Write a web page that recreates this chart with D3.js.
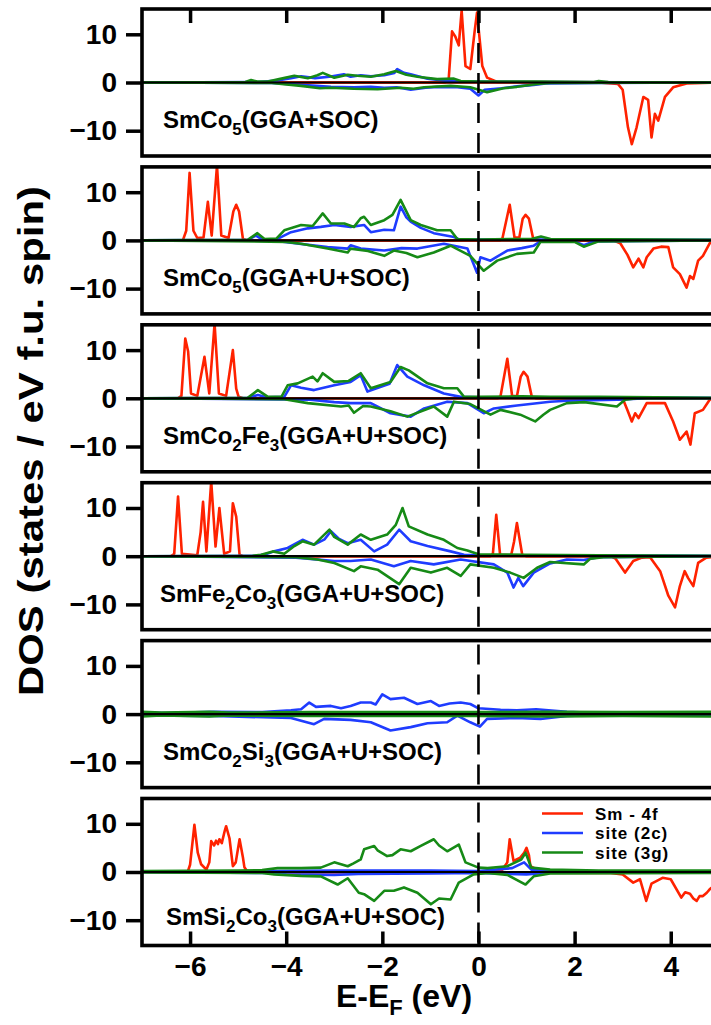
<!DOCTYPE html>
<html>
<head>
<meta charset="utf-8">
<script src="https://cdn.jsdelivr.net/npm/d3@7"></script>
<style>
  body { margin: 0; background: #fff; }
  text { font-family: "Liberation Sans", Arial, Helvetica, sans-serif; }
</style>
</head>
<body>
<div id="chart"></div>
<script>
// ---- data: [E - EF (eV), DOS] ----
// panel 1: SmCo5 (GGA+SOC)
var p1_sm_up = [[-7,0],[-0.7,0],[-0.62,0.6],[-0.55,10.6],[-0.48,9.5],[-0.41,7.7],[-0.35,14.9],[-0.27,3.4],[-0.17,2.8],[-0.08,10.6],[-0.03,14.5],[0.08,3.4],[0.18,1],[0.39,0.1],[5,0]];
var p1_sm_dn = [[-7,0],[2.5,0],[2.9,-0.3],[3.0,-1.5],[3.11,-9.3],[3.19,-12.8],[3.29,-9.3],[3.43,-3],[3.53,-3.6],[3.6,-11.4],[3.67,-6.5],[3.74,-7.9],[3.88,-3],[4.05,-1],[4.33,-0.2],[5,0]];
var p1_2c_up = [[-7,0],[-4.6,0.1],[-4.18,0.4],[-3.9,0.9],[-3.69,1.3],[-3.4,0.9],[-3.1,1.2],[-2.8,1.7],[-2.66,1.2],[-2.45,1.5],[-2.24,1.3],[-1.96,1.5],[-1.75,2.0],[-1.69,2.8],[-1.55,2.0],[-1.41,1.7],[-1.06,0.8],[-0.65,0.3],[0,0.2],[1.5,0.1],[5,0]];
var p1_2c_dn = [[-7,0],[-4.3,-0.1],[-3.69,-0.5],[-3.07,-0.9],[-2.59,-1.0],[-2.24,-0.9],[-1.96,-1.1],[-1.7,-1.0],[-1.41,-1.5],[-1.1,-1.1],[-0.86,-0.9],[-0.44,-1.0],[-0.17,-1.3],[0,-2.7],[0.13,-1.5],[0.48,-1.2],[0.8,-0.8],[1.15,-0.5],[1.4,-0.2],[2.5,-0.1],[5,0]];
var p1_3g_up = [[-7,0],[-4.85,0.1],[-4.73,0.5],[-4.6,0.2],[-4.38,0.2],[-4.1,0.8],[-3.83,1.4],[-3.55,0.9],[-3.35,1.5],[-3.24,2.0],[-3.0,1.0],[-2.72,1.6],[-2.52,1.4],[-2.24,1.2],[-1.96,1.7],[-1.72,2.4],[-1.5,1.6],[-1.27,1.2],[-0.86,0.7],[-0.51,0.8],[-0.37,0.3],[0,0.2],[1.2,0.2],[2.4,0.1],[2.5,0.3],[2.7,0.1],[5,0]];
var p1_3g_dn = [[-7,0],[-4.3,-0.1],[-3.69,-0.7],[-3.3,-1.2],[-3.07,-1.1],[-2.6,-1.3],[-2.1,-1.4],[-1.62,-1.1],[-1.35,-1.3],[-1.13,-1.0],[-0.58,-0.7],[-0.17,-1.0],[0.18,-2.0],[0.52,-1.2],[0.8,-0.9],[1.22,-0.3],[1.5,-0.1],[5,0]];

// panel 2: SmCo5 (GGA+U+SOC)
var p2_sm_up = [[-7,0],[-6.15,0],[-6.08,2],[-6.01,14],[-5.93,2],[-5.85,0.5],[-5.72,0.6],[-5.63,8],[-5.55,1],[-5.44,15.5],[-5.35,1],[-5.2,0.5],[-5.1,6],[-5.04,7.4],[-4.98,6],[-4.9,0.3],[-4.8,0],[0.45,0],[0.5,0.5],[0.65,7.4],[0.75,0.6],[0.85,0.6],[0.92,4.5],[0.98,5.3],[1.05,4.5],[1.14,0.3],[1.3,0],[5,0]];
var p2_sm_dn = [[-7,0],[2.8,0],[2.95,-0.6],[3.1,-3],[3.22,-5.6],[3.33,-3.8],[3.43,-5.6],[3.5,-3.5],[3.64,-1.7],[3.8,-1.3],[3.95,-1.4],[4.05,-5.6],[4.19,-7],[4.33,-9.8],[4.4,-7.4],[4.47,-8],[4.57,-4.2],[4.67,-3.2],[4.81,-0.6],[5,0]];
var p2_2c_up = [[-7,0],[-4.8,0.1],[-4.63,1],[-4.5,0.2],[-4.18,0.3],[-3.9,1.7],[-3.55,2.5],[-3.28,2.8],[-3.0,3.2],[-2.66,2.8],[-2.38,3.2],[-2.24,1.7],[-1.96,2.2],[-1.76,2.1],[-1.62,7.0],[-1.5,4.8],[-1.41,3.9],[-1.2,2.6],[-0.93,1.5],[-0.51,0.7],[-0.4,0.2],[0,0.2],[1.5,0.2],[5,0.1]];
var p2_2c_dn = [[-7,0],[-4.2,-0.1],[-3.9,-0.5],[-3.14,-1.4],[-2.72,-1.7],[-2.66,-1.0],[-2.45,-1.7],[-1.96,-2.1],[-1.6,-1.6],[-1.27,-1.7],[-0.72,-0.7],[-0.23,-1.7],[-0.03,-6.7],[0.04,-3.5],[0.25,-4.2],[0.6,-2.1],[0.9,-1.6],[1.15,-1.1],[1.29,-0.2],[2.0,-0.2],[2.19,-1.0],[2.4,-0.2],[5,0]];
var p2_3g_up = [[-7,0],[-4.8,0.1],[-4.6,1.5],[-4.45,0.3],[-4.2,0.4],[-4.04,2.1],[-3.69,3.2],[-3.45,3.0],[-3.24,5.6],[-3.07,3.5],[-2.79,3.5],[-2.59,2.8],[-2.45,4.6],[-2.38,4.9],[-2.24,3.2],[-1.96,4.2],[-1.79,5.3],[-1.62,8.4],[-1.41,4.2],[-1.2,3.2],[-0.86,2.1],[-0.58,2.1],[-0.44,0.3],[0,0.2],[1.1,0.3],[1.3,0.8],[1.5,0.3],[5,0.1]];
var p2_3g_dn = [[-7,0],[-4.0,-0.3],[-3.69,-0.7],[-3.14,-1.7],[-2.72,-2.5],[-2.66,-1.7],[-2.3,-2.2],[-1.96,-3.2],[-1.76,-2.1],[-1.5,-2.6],[-1.27,-3.5],[-0.93,-2.5],[-0.58,-1.1],[-0.17,-3.2],[0.11,-6.3],[0.39,-4.2],[0.8,-2.8],[1.15,-2.5],[1.29,-0.3],[2.0,-0.3],[2.19,-1.3],[2.5,-0.2],[5,0]];

// panel 3: SmCo2Fe3 (GGA+U+SOC)
var p3_sm_up = [[-7,0],[-6.25,0],[-6.18,0.5],[-6.1,12.4],[-6.04,9.7],[-5.98,1],[-5.85,0.5],[-5.7,8.6],[-5.6,1],[-5.49,15.5],[-5.4,1],[-5.25,0.5],[-5.11,10],[-5.04,2],[-4.99,0.3],[-4.9,0],[0.4,0],[0.46,0.5],[0.6,8.2],[0.7,0.5],[0.8,0.4],[0.88,4.5],[0.94,5.5],[1.02,4.5],[1.11,0.3],[1.2,0],[5,0]];
var p3_sm_dn = [[-7,0],[2.9,0],[3.02,-0.5],[3.1,-2.5],[3.19,-4.8],[3.26,-3.1],[3.33,-4.1],[3.5,-1.0],[3.88,-1.0],[4.05,-4.8],[4.19,-8.6],[4.33,-6.9],[4.41,-9.6],[4.5,-3.1],[4.67,-2.4],[4.81,-0.3],[5,0]];
var p3_2c_up = [[-7,0],[-4.8,0.1],[-4.59,0.7],[-4.4,0.2],[-4.04,0.3],[-3.9,2.7],[-3.69,2.2],[-3.42,1.7],[-3.0,2.7],[-2.66,3.4],[-2.45,4.8],[-2.31,1.4],[-2.03,2.4],[-1.85,3.0],[-1.69,6.9],[-1.48,4.5],[-1.13,2.7],[-0.72,1.0],[-0.37,0.3],[0,0.2],[2,0.2],[5,0.1]];
var p3_2c_dn = [[-7,0],[-3.5,-0.3],[-3.0,-0.8],[-2.66,-1.0],[-2.24,-1.0],[-1.83,-3.1],[-1.41,-3.8],[-1.13,-2.1],[-0.65,-0.7],[-0.23,-1.0],[0.11,-3.1],[0.32,-2.1],[0.8,-1.5],[1.49,-0.7],[1.84,-0.5],[2.9,-0.3],[3.5,0],[5,0]];
var p3_3g_up = [[-7,0],[-4.8,0.1],[-4.59,1.7],[-4.38,0.3],[-4.1,0.3],[-3.97,2.7],[-3.76,3.1],[-3.45,4.5],[-3.35,3.5],[-3.24,5.2],[-3.0,3.4],[-2.7,3.6],[-2.45,5.2],[-2.24,2.1],[-1.83,3.4],[-1.62,6.5],[-1.45,5.8],[-1.06,3.1],[-0.72,2.1],[-0.44,2.1],[-0.3,0.3],[0,0.3],[0.9,0.4],[1.5,0.3],[2.5,0.3],[5,0.1]];
var p3_3g_dn = [[-7,0],[-4.04,-0.2],[-3.55,-1.0],[-2.86,-1.7],[-2.7,-1.5],[-2.59,-3.0],[-2.4,-1.6],[-2.24,-1.7],[-1.83,-2.7],[-1.48,-3.8],[-0.93,-1.7],[-0.65,-3.8],[-0.51,-0.7],[-0.17,-1.2],[0.25,-3.4],[0.46,-2.4],[0.87,-3.4],[1.18,-4.8],[1.35,-3.4],[1.49,-2.4],[1.84,-1.0],[2.2,-0.8],[2.88,-1.7],[3.05,-0.3],[3.3,0],[5,0]];

// panel 4: SmFe2Co3 (GGA+U+SOC)
var p4_sm_up = [[-7,0],[-6.4,0],[-6.33,0.5],[-6.25,12.4],[-6.17,0.5],[-5.85,0.2],[-5.78,5],[-5.73,11.3],[-5.66,1],[-5.56,15.5],[-5.47,2],[-5.39,10],[-5.29,0.5],[-5.17,1],[-5.11,11],[-5.04,8.2],[-4.97,0.3],[-4.9,0],[0.25,0],[0.3,0.5],[0.37,8.6],[0.45,0.3],[0.68,0.2],[0.74,3],[0.8,6.9],[0.91,0.3],[1.0,0],[5,0]];
var p4_sm_dn = [[-7,0],[2.75,0],[2.85,-0.5],[3.05,-3.4],[3.22,-1.0],[3.4,-0.3],[3.57,-0.2],[3.78,-3.1],[3.95,-8.2],[4.09,-10.6],[4.19,-6.2],[4.29,-3.1],[4.36,-4.5],[4.47,-6.2],[4.57,-1.4],[4.74,-0.3],[5,0]];
var p4_2c_up = [[-7,0],[-4.6,0.1],[-4.4,0.5],[-4.25,1.0],[-3.97,1.7],[-3.66,3.4],[-3.42,2.4],[-3.2,3.5],[-3.07,5.2],[-2.9,3.6],[-2.72,2.7],[-2.45,3.4],[-2.17,1.0],[-1.9,2.4],[-1.65,5.5],[-1.41,3.1],[-1.06,2.1],[-0.58,1.0],[-0.3,0.3],[0,0.2],[2,0.2],[5,0.1]];
var p4_2c_dn = [[-7,0],[-3.8,-0.3],[-3.0,-1.0],[-2.66,-1.0],[-2.24,-0.7],[-1.76,-2.1],[-1.41,-1.0],[-0.93,-1.7],[-0.37,-0.7],[0.32,-1.7],[0.6,-3.4],[0.73,-6.5],[0.83,-4.5],[0.93,-6.2],[1.15,-3.4],[1.49,-1.5],[1.84,-0.7],[2.19,-0.8],[2.5,-0.2],[5,0]];
var p4_3g_up = [[-7,0],[-4.7,0.1],[-4.52,0.3],[-4.28,1.0],[-4.04,0.5],[-3.83,2.1],[-3.66,3.1],[-3.42,2.4],[-3.1,5.5],[-3.0,4.0],[-2.72,2.4],[-2.45,4.5],[-2.24,3.4],[-1.9,4.5],[-1.72,6.5],[-1.58,10],[-1.45,6.2],[-1.06,4.5],[-0.72,3.4],[-0.44,1.7],[-0.23,1.2],[0,0.4],[1,0.3],[2.5,0.2],[5,0.1]];
var p4_3g_dn = [[-7,0],[-3.8,-0.2],[-3.35,-0.7],[-3.0,-1.4],[-2.59,-3.1],[-2.45,-2.1],[-2.1,-2.8],[-1.65,-5.8],[-1.41,-2.4],[-0.99,-3.4],[-0.65,-2.4],[-0.37,-4.1],[-0.17,-1.7],[0.32,-2.4],[0.66,-3.4],[0.94,-4.5],[1.22,-2.4],[1.49,-1.2],[2.19,-1.7],[2.33,-0.5],[2.6,-0.2],[5,0]];

// panel 5: SmCo2Si3 (GGA+U+SOC)
var p5_sm_up = [[-7,0],[5,0]];
var p5_sm_dn = [[-7,0],[5,0]];
var p5_2c_up = [[-7,0.3],[-6.5,0.2],[-5.5,0.5],[-4.5,0.4],[-3.9,0.8],[-3.69,1.0],[-3.52,2.4],[-3.38,1.5],[-3.07,1.7],[-2.86,1.2],[-2.66,1.7],[-2.45,2.4],[-2.24,2.4],[-2.14,2.0],[-2.0,4.1],[-1.83,3.1],[-1.55,3.4],[-1.27,2.1],[-0.99,2.7],[-0.82,1.7],[-0.6,2.2],[-0.37,2.4],[-0.17,2.1],[0,1.2],[0.46,0.9],[0.8,0.8],[1.2,1.0],[1.84,0.5],[2.5,0.2],[5,0.2]];
var p5_2c_dn = [[-7,-0.3],[-5.5,-0.4],[-3.9,-0.8],[-3.42,-2.1],[-3.21,-1.0],[-2.66,-1.2],[-2.24,-1.7],[-1.83,-3.4],[-1.41,-2.7],[-1.06,-1.9],[-0.65,-1.7],[-0.44,-0.3],[-0.17,-1.7],[0.03,-2.6],[0.18,-1.0],[0.8,-0.8],[1.29,-1.0],[1.84,-0.4],[2.5,-0.2],[5,-0.2]];
var p5_3g_up = [[-7,0.5],[-6.6,0.3],[-5.6,0.5],[-5.2,0.3],[-3.5,0.4],[-2,0.4],[0,0.4],[1.5,0.5],[3,0.4],[5,0.5]];
var p5_3g_dn = [[-7,-0.5],[-6.6,-0.3],[-5.6,-0.5],[-5.2,-0.3],[-3.5,-0.4],[-2,-0.4],[0,-0.4],[1.5,-0.5],[3,-0.4],[5,-0.5]];

// panel 6: SmSi2Co3 (GGA+U+SOC)
var p6_sm_up = [[-7,0],[-6.05,0],[-6.0,1.5],[-5.91,9.8],[-5.84,4],[-5.77,1.6],[-5.66,0.5],[-5.6,2],[-5.56,6.4],[-5.5,5.5],[-5.46,6.5],[-5.42,5.8],[-5.39,6.8],[-5.34,6],[-5.28,8.5],[-5.25,9.5],[-5.18,7],[-5.11,1.2],[-5.05,2],[-4.97,6.8],[-4.9,3],[-4.87,1],[-4.8,0],[0.1,0.1],[0.5,0.5],[0.6,2],[0.65,6.8],[0.73,2.3],[0.87,3],[0.95,4],[1.0,5],[1.05,3.5],[1.08,1.2],[1.22,0.5],[1.4,0],[5,0]];
var p6_sm_dn = [[-7,0],[2.75,-0.2],[3.0,-0.5],[3.22,-2.2],[3.36,-1.5],[3.49,-6.0],[3.6,-2.4],[3.83,-1.2],[4.0,-1.5],[4.22,-5.3],[4.3,-4.2],[4.4,-4.5],[4.47,-5.5],[4.54,-6.0],[4.6,-5.0],[4.67,-5.0],[4.75,-4.3],[4.81,-3.6],[5,-2]];
var p6_2c_up = [[-7,0],[-4.2,0.2],[-3,0.3],[-1,0.3],[0,0.2],[0.7,0.8],[0.95,2.0],[1.1,0.5],[1.5,0.2],[5,0.1]];
var p6_2c_dn = [[-7,0],[-4.3,-0.2],[-4.0,-0.5],[-3.0,-0.6],[-2.5,-0.4],[-1,-0.3],[0,-0.2],[1.0,-0.5],[1.5,-0.1],[5,0]];
var p6_3g_up = [[-7,0.2],[-5,0.3],[-4.5,0.4],[-4.18,0.8],[-3.69,0.8],[-3.28,0.9],[-3.0,2.0],[-2.72,1.2],[-2.6,1.8],[-2.45,2.6],[-2.38,4.7],[-2.17,5.4],[-2.1,4.5],[-1.9,3.3],[-1.79,3.5],[-1.62,4.7],[-1.41,4.3],[-1.2,5.4],[-0.93,6.8],[-0.82,5.5],[-0.65,4.3],[-0.41,5.7],[-0.27,2.0],[0,0.9],[0.19,0.8],[0.6,1.2],[0.89,2.6],[0.98,4.0],[1.1,0.9],[1.49,0.5],[2.5,0.3],[5,0.3]];
var p6_3g_dn = [[-7,-0.1],[-4.5,-0.2],[-4.25,-0.5],[-3.69,-0.8],[-3.28,-0.9],[-2.93,-2.6],[-2.72,-1.3],[-2.49,-4.3],[-2.38,-4.6],[-2.17,-6.0],[-1.96,-3.9],[-1.76,-3.9],[-1.55,-3.2],[-1.27,-4.3],[-0.99,-6.7],[-0.82,-5.5],[-0.58,-5.7],[-0.41,-2.2],[-0.1,-0.5],[0.19,-0.2],[0.6,-0.6],[0.98,-2.6],[1.15,-0.9],[1.49,-0.3],[5,-0.2]];

// panel labels: [text, subscript, text, subscript, text ...]
var panelLabels = [
  ["SmCo", "5", "(GGA+SOC)"],
  ["SmCo", "5", "(GGA+U+SOC)"],
  ["SmCo", "2", "Fe", "3", "(GGA+U+SOC)"],
  ["SmFe", "2", "Co", "3", "(GGA+U+SOC)"],
  ["SmCo", "2", "Si", "3", "(GGA+U+SOC)"],
  ["SmSi", "2", "Co", "3", "(GGA+U+SOC)"]
];
var legendNames = ["Sm - 4f", "site (2c)", "site (3g)"];
var xTicks = [-6, -4, -2, 0, 2, 4];
var yTicks = [-10, 0, 10];

var panels = [
  [p1_sm_up, p1_sm_dn, p1_2c_up, p1_2c_dn, p1_3g_up, p1_3g_dn],
  [p2_sm_up, p2_sm_dn, p2_2c_up, p2_2c_dn, p2_3g_up, p2_3g_dn],
  [p3_sm_up, p3_sm_dn, p3_2c_up, p3_2c_dn, p3_3g_up, p3_3g_dn],
  [p4_sm_up, p4_sm_dn, p4_2c_up, p4_2c_dn, p4_3g_up, p4_3g_dn],
  [p5_sm_up, p5_sm_dn, p5_2c_up, p5_2c_dn, p5_3g_up, p5_3g_dn],
  [p6_sm_up, p6_sm_dn, p6_2c_up, p6_2c_dn, p6_3g_up, p6_3g_dn]
];
var colors = ["#ff2200", "#1f3cff", "#168a16"];

// ---- layout ----
var W = 711, H = 1025;
var panelTop = 9, panelH = 147, panelStep = 157.9;

var svg = d3.select("#chart").append("svg")
    .attr("width", W)
    .attr("height", H);

var x = d3.scaleLinear().domain([-7, 5]).range([142, 718.8]);
var y = d3.scaleLinear().domain([-15.25, 15.25]).range([panelH, 0]);

var line = d3.line()
    .x(function(d) { return x(d[0]); })
    .y(function(d) { return y(d[1]); });

panels.forEach(function(series, i) {
    var top = panelTop + i * panelStep;
    var g = svg.append("g").attr("transform", "translate(0," + top + ")");

    g.append("clipPath").attr("id", "clip" + i)
      .append("rect")
        .attr("x", x(-7)).attr("y", 0)
        .attr("width", x(5) - x(-7)).attr("height", panelH);

    var plot = g.append("g").attr("clip-path", "url(#clip" + i + ")");

    series.forEach(function(s, k) {
        plot.append("path")
            .datum(s)
            .attr("fill", "none")
            .attr("stroke", colors[Math.floor(k / 2)])
            .attr("stroke-width", 2.6)
            .attr("stroke-linejoin", "round")
            .attr("d", line);
    });

    // zero line
    plot.append("line")
        .attr("x1", x(-7)).attr("x2", x(5))
        .attr("y1", y(0)).attr("y2", y(0))
        .attr("stroke", "black").attr("stroke-width", 2.2);

    // Fermi level
    plot.append("line")
        .attr("x1", x(0)).attr("x2", x(0))
        .attr("y1", 0).attr("y2", panelH)
        .attr("stroke", "black").attr("stroke-width", 2.6)
        .attr("stroke-dasharray", "20,10")
        .attr("stroke-dashoffset", -4);

    // y axis
    var yAxis = g.append("g")
        .attr("transform", "translate(" + x(-7) + ",0)")
        .call(d3.axisLeft(y).tickValues(yTicks).tickSize(16).tickPadding(9));
    yAxis.select(".domain").remove();
    yAxis.selectAll("line").attr("stroke-width", 3.5);
    yAxis.selectAll("text")
        .style("font-size", "28px").style("font-weight", "bold")
        .attr("fill", "black");

    if (i == 0) {
        var top_ax = g.append("g")
            .call(d3.axisTop(x).tickValues(xTicks).tickSize(-14).tickFormat(""));
        top_ax.select(".domain").remove();
        top_ax.selectAll("line").attr("stroke-width", 3.5);
    }
    if (i == panels.length - 1) {
        var bot = g.append("g")
            .attr("transform", "translate(0," + panelH + ")")
            .call(d3.axisBottom(x).tickValues(xTicks).tickSize(-14).tickPadding(11));
        bot.select(".domain").remove();
        bot.selectAll("line").attr("stroke-width", 3.5);
        bot.selectAll("text")
            .style("font-size", "28px").style("font-weight", "bold")
            .attr("fill", "black");
    }

    // frame
    g.append("rect")
        .attr("x", x(-7)).attr("y", 0)
        .attr("width", x(5) - x(-7)).attr("height", panelH)
        .attr("fill", "none").attr("stroke", "black").attr("stroke-width", 3.6);

    // panel label
    var lx = (i == 3) ? 160 : (i == 5 ? 166 : 163);
    var label = g.append("text")
        .attr("x", lx)
        .attr("y", (i == 5) ? 126 : 119)
        .style("font-size", "24px").style("font-weight", "bold");
    panelLabels[i].forEach(function(part, j) {
        var sub = j % 2 == 1;
        label.append("tspan")
            .attr("dy", sub ? 7 : (j > 0 ? -7 : 0))
            .style("font-size", sub ? "17px" : "24px")
            .text(part);
    });

    // legend in last panel
    if (i == panels.length - 1) {
        legendNames.forEach(function(name, k) {
            var ly = 15 + k * 19.5;
            g.append("line")
                .attr("x1", 542).attr("x2", 583)
                .attr("y1", ly).attr("y2", ly)
                .attr("stroke", colors[k]).attr("stroke-width", 2.6);
            g.append("text")
                .attr("x", 595).attr("y", ly + 6)
                .style("font-size", "17px").style("font-weight", "bold")
                .style("letter-spacing", "1px")
                .text(name);
        });
    }
});

// axis titles
svg.append("text")
    .attr("transform", "translate(43,441) rotate(-90)")
    .attr("text-anchor", "middle")
    .attr("textLength", 510)
    .attr("lengthAdjust", "spacingAndGlyphs")
    .style("font-size", "35px").style("font-weight", "bold")
    .text("DOS (states / eV f.u. spin)");

var xt = svg.append("text")
    .attr("x", 404).attr("y", 1007)
    .attr("text-anchor", "middle")
    .style("font-size", "32px").style("font-weight", "bold");
xt.append("tspan").text("E-E");
xt.append("tspan").attr("dy", 8).style("font-size", "22px").text("F");
xt.append("tspan").attr("dy", -8).text(" (eV)");
</script>
</body>
</html>
